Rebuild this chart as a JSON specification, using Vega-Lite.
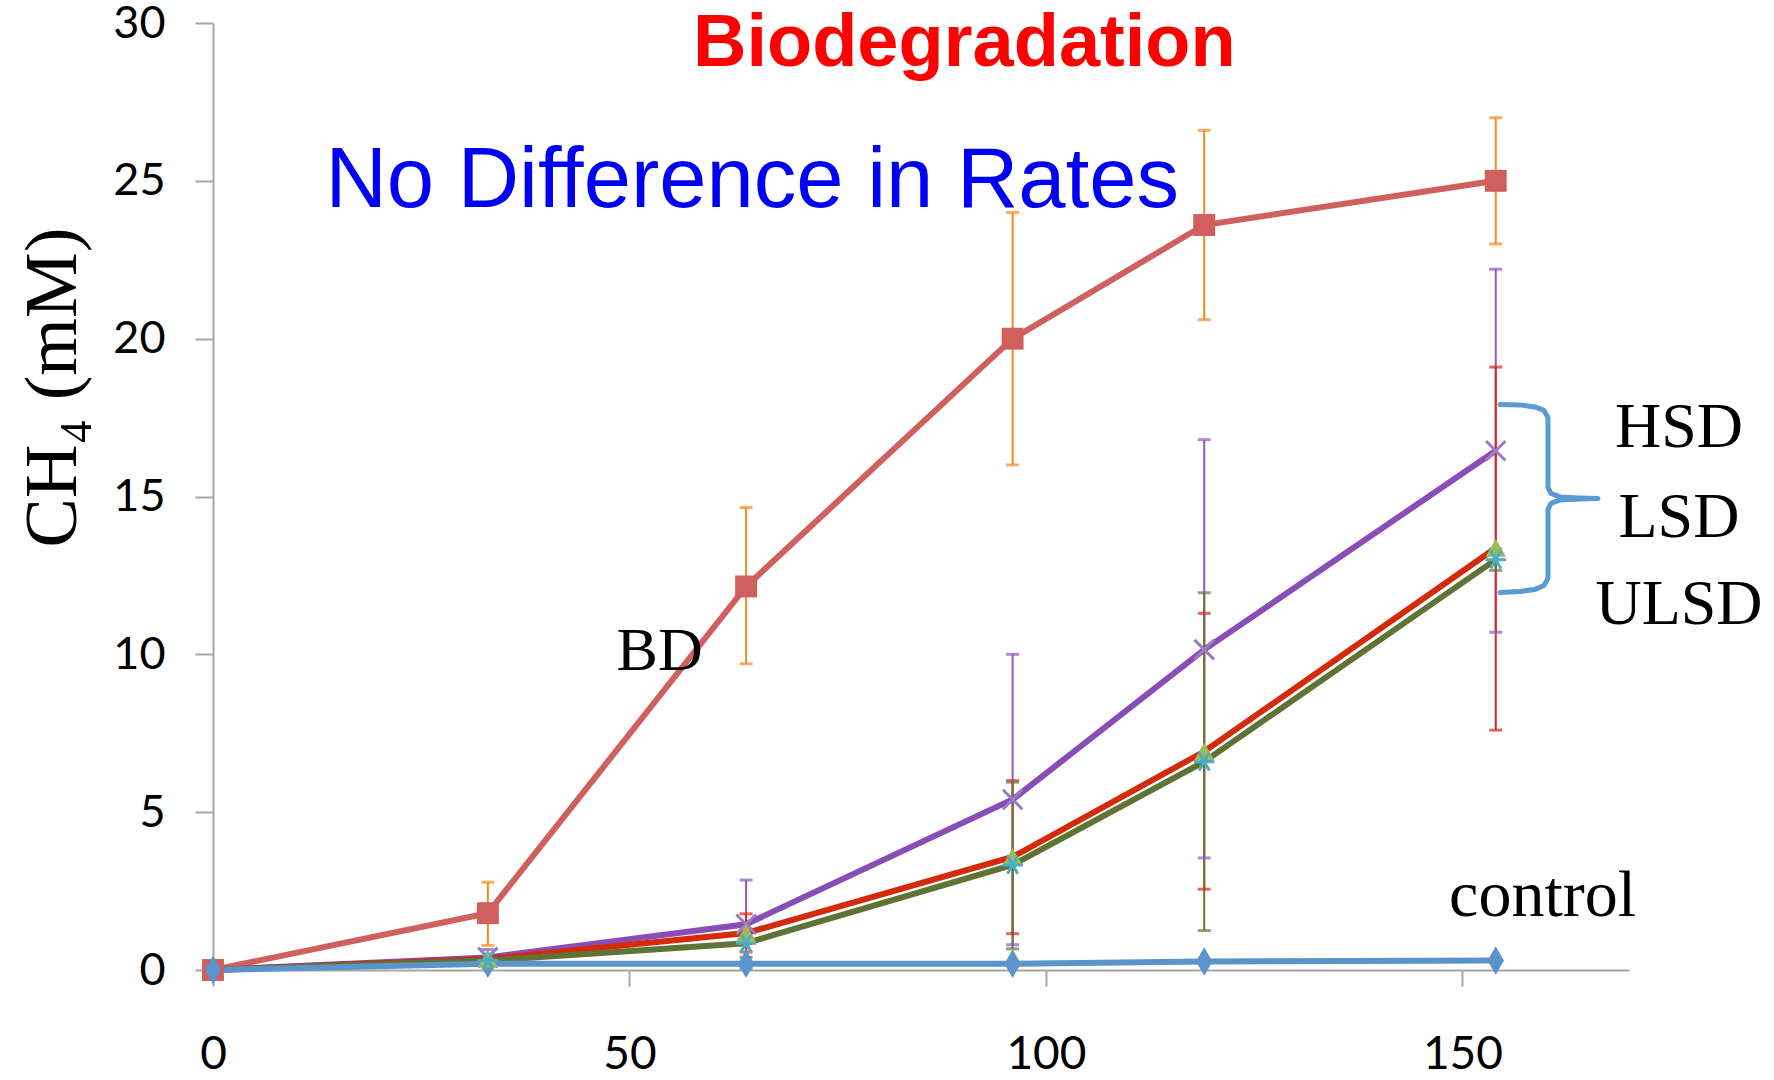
{
  "$schema": "https://vega.github.io/schema/vega-lite/v6.json",
  "autosize": {"type": "none"},
  "padding": {"left": 213, "top": 23, "right": 145, "bottom": 110},
  "width": 1416,
  "height": 947,
  "background": "white",
  "config": {"view": {"stroke": null}, "axis": {"grid": false}},
  "datasets": {
    "ch4": [
      {"s": "BD", "day": 0, "mean": 0},
      {"s": "BD", "day": 33, "mean": 1.8, "lo": 0.78, "hi": 2.78},
      {"s": "BD", "day": 64, "mean": 12.15, "lo": 9.7, "hi": 14.65},
      {"s": "BD", "day": 96, "mean": 20.0, "lo": 16.0, "hi": 24.0},
      {"s": "BD", "day": 119, "mean": 23.6, "lo": 20.6, "hi": 26.6},
      {"s": "BD", "day": 154, "mean": 25.0, "lo": 23.0, "hi": 27.0},
      {"s": "HSD", "day": 0, "mean": 0},
      {"s": "HSD", "day": 33, "mean": 0.4, "lo": 0.15, "hi": 0.65},
      {"s": "HSD", "day": 64, "mean": 1.45, "lo": 0.05, "hi": 2.85},
      {"s": "HSD", "day": 96, "mean": 5.4, "lo": 0.8, "hi": 10.0},
      {"s": "HSD", "day": 119, "mean": 10.15, "lo": 3.55, "hi": 16.8},
      {"s": "HSD", "day": 154, "mean": 16.45, "lo": 10.7, "hi": 22.2},
      {"s": "LSD", "day": 0, "mean": 0},
      {"s": "LSD", "day": 33, "mean": 0.35},
      {"s": "LSD", "day": 64, "mean": 1.17, "lo": 0.57, "hi": 1.78},
      {"s": "LSD", "day": 96, "mean": 3.58, "lo": 1.15, "hi": 6.0},
      {"s": "LSD", "day": 119, "mean": 6.92, "lo": 2.56, "hi": 11.3},
      {"s": "LSD", "day": 154, "mean": 13.37, "lo": 7.6, "hi": 19.1},
      {"s": "ULSD", "day": 0, "mean": 0},
      {"s": "ULSD", "day": 33, "mean": 0.3},
      {"s": "ULSD", "day": 64, "mean": 0.85, "lo": 0.4, "hi": 1.3},
      {"s": "ULSD", "day": 96, "mean": 3.33, "lo": 0.67, "hi": 5.95},
      {"s": "ULSD", "day": 119, "mean": 6.6, "lo": 1.25, "hi": 11.95},
      {"s": "ULSD", "day": 154, "mean": 13.0, "lo": 12.66, "hi": 13.34},
      {"s": "control", "day": 0, "mean": 0},
      {"s": "control", "day": 33, "mean": 0.2},
      {"s": "control", "day": 64, "mean": 0.2},
      {"s": "control", "day": 96, "mean": 0.2},
      {"s": "control", "day": 119, "mean": 0.27},
      {"s": "control", "day": 154, "mean": 0.3}
    ],
    "brace": [
      {"k": 1, "bx": 154.51, "by": 17.918},
      {"k": 2, "bx": 156.91, "by": 17.902},
      {"k": 3, "bx": 158.71, "by": 17.838},
      {"k": 4, "bx": 159.79, "by": 17.728},
      {"k": 5, "bx": 160.27, "by": 17.506},
      {"k": 6, "bx": 160.27, "by": 15.288},
      {"k": 7, "bx": 160.63, "by": 15.098},
      {"k": 8, "bx": 161.72, "by": 14.987},
      {"k": 9, "bx": 164.12, "by": 14.956},
      {"k": 10, "bx": 166.28, "by": 14.94},
      {"k": 11, "bx": 164.12, "by": 14.924},
      {"k": 12, "bx": 161.72, "by": 14.892},
      {"k": 13, "bx": 160.63, "by": 14.781},
      {"k": 14, "bx": 160.27, "by": 14.591},
      {"k": 15, "bx": 160.27, "by": 12.405},
      {"k": 16, "bx": 159.79, "by": 12.183},
      {"k": 17, "bx": 158.71, "by": 12.057},
      {"k": 18, "bx": 156.91, "by": 11.993},
      {"k": 19, "bx": 154.51, "by": 11.962}
    ],
    "one": [{"n": 1}]
  },
  "layer": [
    {
      "data": {"name": "ch4"},
      "mark": {"type": "line", "strokeWidth": 6},
      "encoding": {
        "x": {
          "field": "day", "type": "quantitative",
          "scale": {"domain": [0, 170], "nice": false, "zero": false},
          "axis": {
            "title": null, "values": [0, 50, 100, 150],
            "tickSize": 16, "tickWidth": 2, "tickColor": "#A6A6A6",
            "domainColor": "#A6A6A6", "domainWidth": 2,
            "labelFont": "Lato", "labelFontSize": 46, "labelColor": "#000000",
            "labelPadding": 46, "labelFlush": false
          }
        },
        "y": {
          "field": "mean", "type": "quantitative",
          "scale": {"domain": [0, 30], "nice": false},
          "axis": {
            "title": "CH₄ (mM)", "values": [0, 5, 10, 15, 20, 25, 30],
            "titleFont": "Liberation Serif", "titleFontSize": 74, "titleFontWeight": "normal",
            "titleColor": "#000000", "titleAngle": 270, "titleAlign": "center", "titleBaseline": "middle",
            "titleX": -160, "titleY": 364,
            "tickSize": 18, "tickWidth": 2, "tickColor": "#A6A6A6",
            "domainColor": "#A6A6A6", "domainWidth": 2,
            "labelFont": "Lato", "labelFontSize": 45, "labelColor": "#000000",
            "labelPadding": 30, "labelFlush": false
          }
        },
        "color": {
          "field": "s", "type": "nominal", "legend": null,
          "scale": {"domain": ["BD", "HSD", "LSD", "ULSD", "control"], "range": ["#D0605E", "#8A4DB8", "#D42A0A", "#5F7434", "#5B93CC"]}
        },
        "order": {"field": "day", "type": "quantitative"}
      }
    },
    {
      "data": {"name": "ch4"},
      "transform": [{"filter": "isValid(datum.lo)"}],
      "mark": {"type": "rule", "strokeWidth": 2},
      "encoding": {
        "x": {"field": "day", "type": "quantitative"},
        "y": {"field": "lo", "type": "quantitative"},
        "y2": {"field": "hi"},
        "color": {
          "field": "s", "type": "nominal", "legend": null,
          "scale": {"domain": ["BD", "HSD", "LSD", "ULSD"], "range": ["#F58A1F", "#9457C0", "#D92B1A", "#66783A"]}
        }
      }
    },
    {
      "data": {"name": "ch4"},
      "transform": [{"filter": "isValid(datum.lo)"}],
      "mark": {"type": "tick", "orient": "horizontal", "size": 13, "thickness": 3},
      "encoding": {
        "x": {"field": "day", "type": "quantitative"},
        "y": {"field": "lo", "type": "quantitative"},
        "color": {
          "field": "s", "type": "nominal", "legend": null,
          "scale": {"domain": ["BD", "HSD", "LSD", "ULSD"], "range": ["#F58A1F", "#9457C0", "#D92B1A", "#66783A"]}
        }
      }
    },
    {
      "data": {"name": "ch4"},
      "transform": [{"filter": "isValid(datum.hi)"}],
      "mark": {"type": "tick", "orient": "horizontal", "size": 13, "thickness": 3},
      "encoding": {
        "x": {"field": "day", "type": "quantitative"},
        "y": {"field": "hi", "type": "quantitative"},
        "color": {
          "field": "s", "type": "nominal", "legend": null,
          "scale": {"domain": ["BD", "HSD", "LSD", "ULSD"], "range": ["#F58A1F", "#9457C0", "#D92B1A", "#66783A"]}
        }
      }
    },
    {
      "data": {"name": "ch4"},
      "transform": [{"filter": "datum.s === 'BD'"}],
      "mark": {"type": "point", "shape": "square", "filled": true, "size": 480, "color": "#D0605E", "opacity": 1},
      "encoding": {
        "x": {"field": "day", "type": "quantitative"},
        "y": {"field": "mean", "type": "quantitative"}
      }
    },
    {
      "data": {"name": "ch4"},
      "transform": [{"filter": "datum.s === 'control'"}],
      "mark": {"type": "point", "shape": "M0,-1.3L0.75,0L0,1.3L-0.75,0Z", "filled": true, "size": 480, "color": "#5B93CC", "opacity": 1},
      "encoding": {
        "x": {"field": "day", "type": "quantitative"},
        "y": {"field": "mean", "type": "quantitative"}
      }
    },
    {
      "data": {"name": "ch4"},
      "transform": [{"filter": "datum.s === 'HSD' && datum.day > 0"}],
      "mark": {"type": "point", "shape": "M-1,-1L1,1M-1,1L1,-1", "filled": false, "size": 380, "strokeWidth": 3, "color": "#9B7CC4", "opacity": 1},
      "encoding": {
        "x": {"field": "day", "type": "quantitative"},
        "y": {"field": "mean", "type": "quantitative"}
      }
    },
    {
      "data": {"name": "ch4"},
      "transform": [{"filter": "datum.s === 'LSD' && datum.day > 0"}],
      "mark": {"type": "point", "shape": "triangle-up", "filled": true, "size": 420, "color": "#9BBB59", "opacity": 1},
      "encoding": {
        "x": {"field": "day", "type": "quantitative"},
        "y": {"field": "mean", "type": "quantitative"}
      }
    },
    {
      "data": {"name": "ch4"},
      "transform": [{"filter": "datum.s === 'ULSD' && datum.day > 0"}],
      "mark": {"type": "point", "shape": "M-1,0L1,0M-0.5,-0.866L0.5,0.866M-0.5,0.866L0.5,-0.866", "filled": false, "size": 420, "strokeWidth": 3, "color": "#4BACC6", "opacity": 1},
      "encoding": {
        "x": {"field": "day", "type": "quantitative"},
        "y": {"field": "mean", "type": "quantitative"}
      }
    },
    {
      "data": {"name": "brace"},
      "mark": {"type": "line", "strokeWidth": 5, "color": "#5B9BD5", "strokeJoin": "round", "strokeCap": "round"},
      "encoding": {
        "x": {"field": "bx", "type": "quantitative"},
        "y": {"field": "by", "type": "quantitative"},
        "order": {"field": "k", "type": "quantitative"}
      }
    },
    {
      "data": {"name": "one"},
      "mark": {"type": "text", "text": "Biodegradation", "font": "Liberation Sans", "fontWeight": "bold", "fontSize": 74, "color": "#FF0000", "align": "center", "baseline": "alphabetic"},
      "encoding": {"x": {"datum": 90.2}, "y": {"datum": 28.64}}
    },
    {
      "data": {"name": "one"},
      "mark": {"type": "text", "text": "No Difference in Rates", "font": "Liberation Sans", "fontSize": 85, "color": "#0000F5", "align": "left", "baseline": "alphabetic"},
      "encoding": {"x": {"datum": 13.5}, "y": {"datum": 24.16}}
    },
    {
      "data": {"name": "one"},
      "mark": {"type": "text", "text": "BD", "font": "Liberation Serif", "fontSize": 62, "color": "#000000", "align": "left", "baseline": "alphabetic"},
      "encoding": {"x": {"datum": 48.45}, "y": {"datum": 9.49}}
    },
    {
      "data": {"name": "one"},
      "mark": {"type": "text", "text": "control", "font": "Liberation Serif", "fontSize": 66, "color": "#000000", "align": "left", "baseline": "alphabetic"},
      "encoding": {"x": {"datum": 148.4}, "y": {"datum": 1.7}}
    },
    {
      "data": {"name": "one"},
      "mark": {"type": "text", "text": "HSD", "font": "Liberation Serif", "fontSize": 64, "color": "#000000", "align": "center", "baseline": "alphabetic"},
      "encoding": {"x": {"datum": 176}, "y": {"datum": 16.56}}
    },
    {
      "data": {"name": "one"},
      "mark": {"type": "text", "text": "LSD", "font": "Liberation Serif", "fontSize": 64, "color": "#000000", "align": "center", "baseline": "alphabetic"},
      "encoding": {"x": {"datum": 176}, "y": {"datum": 13.71}}
    },
    {
      "data": {"name": "one"},
      "mark": {"type": "text", "text": "ULSD", "font": "Liberation Serif", "fontSize": 64, "color": "#000000", "align": "center", "baseline": "alphabetic"},
      "encoding": {"x": {"datum": 176}, "y": {"datum": 10.97}}
    }
  ],
  "resolve": {"scale": {"color": "independent"}}
}
